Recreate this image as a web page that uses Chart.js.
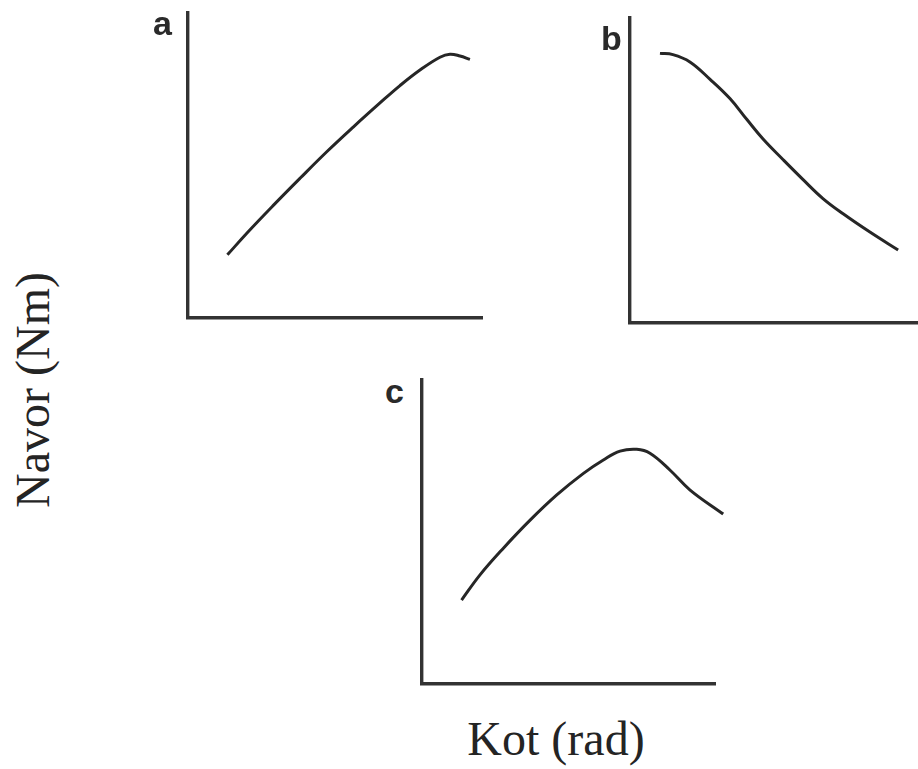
<!DOCTYPE html>
<html>
<head>
<meta charset="utf-8">
<title>Navor v odvisnosti od kota</title>
<script src="https://cdn.jsdelivr.net/npm/chart.js@4/dist/chart.umd.min.js"></script>
<style>
  html, body { margin: 0; padding: 0; background: #ffffff; }
  body { width: 918px; height: 769px; position: relative; overflow: hidden; }
  .panel { position: absolute; }
  .panel canvas { display: block; }
  .tag {
    position: absolute;
    font: bold 34px "Liberation Sans", Arial, sans-serif;
    line-height: 34px;
    color: #2a2a2a;
  }
  .axis-title {
    position: absolute;
    font: 48px "Liberation Serif", "Times New Roman", serif;
    line-height: 48px;
    color: #242424;
    white-space: nowrap;
  }
</style>
</head>
<body>
<div class="panel" id="wrapA"><canvas id="chartA"></canvas></div>
<div class="panel" id="wrapB"><canvas id="chartB"></canvas></div>
<div class="panel" id="wrapC"><canvas id="chartC"></canvas></div>

<div class="tag" style="left:153px; top:6px;">a</div>
<div class="tag" style="left:601px; top:21px;">b</div>
<div class="tag" style="left:385px; top:374px;">c</div>

<div class="axis-title" id="yTitle" style="left:33px; top:390px; transform: translate(-50%, -50%) rotate(-90deg);">Navor (Nm)</div>
<div class="axis-title" id="xTitle" style="left:556px; top:715px; transform: translateX(-50%);">Kot (rad)</div>

<script>
// Curve a: torque rising with angle, flattening at the end
const angleA  = [1.34, 2.00, 2.91, 3.81, 4.72, 5.62, 6.53, 7.21, 7.89, 8.57, 8.91, 9.25, 9.59];
const torqueA = [2.07, 2.78, 3.70, 4.58, 5.45, 6.26, 7.05, 7.62, 8.13, 8.55, 8.65, 8.59, 8.48];

// Curve b: torque falling with angle
const angleB  = [1.04, 1.49, 2.08, 2.78, 3.47, 4.06, 4.62, 5.31, 6.01, 6.70, 7.40, 8.33, 9.31];
const torqueB = [8.84, 8.80, 8.56, 7.99, 7.36, 6.67, 6.03, 5.36, 4.70, 4.08, 3.58, 2.98, 2.39];

// Curve c: torque rising to a peak, then falling
const angleC  = [1.35, 1.98, 2.77, 3.69, 4.60, 5.51, 6.19, 6.76, 7.33, 7.78, 8.46, 9.15, 10.28];
const torqueC = [2.76, 3.59, 4.46, 5.39, 6.22, 6.93, 7.37, 7.66, 7.72, 7.59, 7.04, 6.38, 5.59];

// Axis ranges shared by all three panels
const axisMin = 0;
const axisMax = 10;

const AXIS_COLOR = '#333333';
const LINE_COLOR = '#262626';
const PAD = 16;

// Plot-area rectangles (page pixels) for each panel
const boxes = {
  A: { left: 188, right: 482, top: 13,  bottom: 318 },
  B: { left: 630, right: 918, top: 18,  bottom: 323 },
  C: { left: 422, right: 715, top: 380, bottom: 684 }
};

function axisOptions() {
  return {
    type: 'linear',
    min: axisMin,
    max: axisMax,
    ticks: { display: false },
    grid: { display: false, drawTicks: false },
    border: { display: true, width: 3.4, color: AXIS_COLOR },
    title: { display: false }
  };
}

function makePanel(key, xs, ys) {
  const box = boxes[key];
  const wrap = document.getElementById('wrap' + key);
  const canvas = document.getElementById('chart' + key);
  const w = box.right - box.left + 2 * PAD;
  const h = box.bottom - box.top + 2 * PAD;
  canvas.width = w;
  canvas.height = h;
  canvas.style.width = w + 'px';
  canvas.style.height = h + 'px';
  wrap.style.left = (box.left - PAD) + 'px';
  wrap.style.top = (box.top - PAD) + 'px';

  const chart = new Chart(canvas, {
    type: 'line',
    data: {
      datasets: [{
        data: xs.map((x, i) => ({ x: x, y: ys[i] })),
        borderColor: LINE_COLOR,
        borderWidth: 3,
        pointRadius: 0,
        fill: false,
        tension: 0.4,
        clip: false
      }]
    },
    options: {
      responsive: false,
      animation: false,
      events: [],
      layout: { padding: PAD },
      plugins: {
        legend: { display: false },
        tooltip: { enabled: false },
        title: { display: false }
      },
      scales: { x: axisOptions(), y: axisOptions() }
    }
  });

  // place the canvas so the plot area sits exactly on its rectangle
  const ca = chart.chartArea;
  wrap.style.left = (box.left - ca.left) + 'px';
  wrap.style.top = (box.top - ca.top) + 'px';
  return chart;
}

makePanel('A', angleA, torqueA);
makePanel('B', angleB, torqueB);
makePanel('C', angleC, torqueC);
</script>
</body>
</html>
